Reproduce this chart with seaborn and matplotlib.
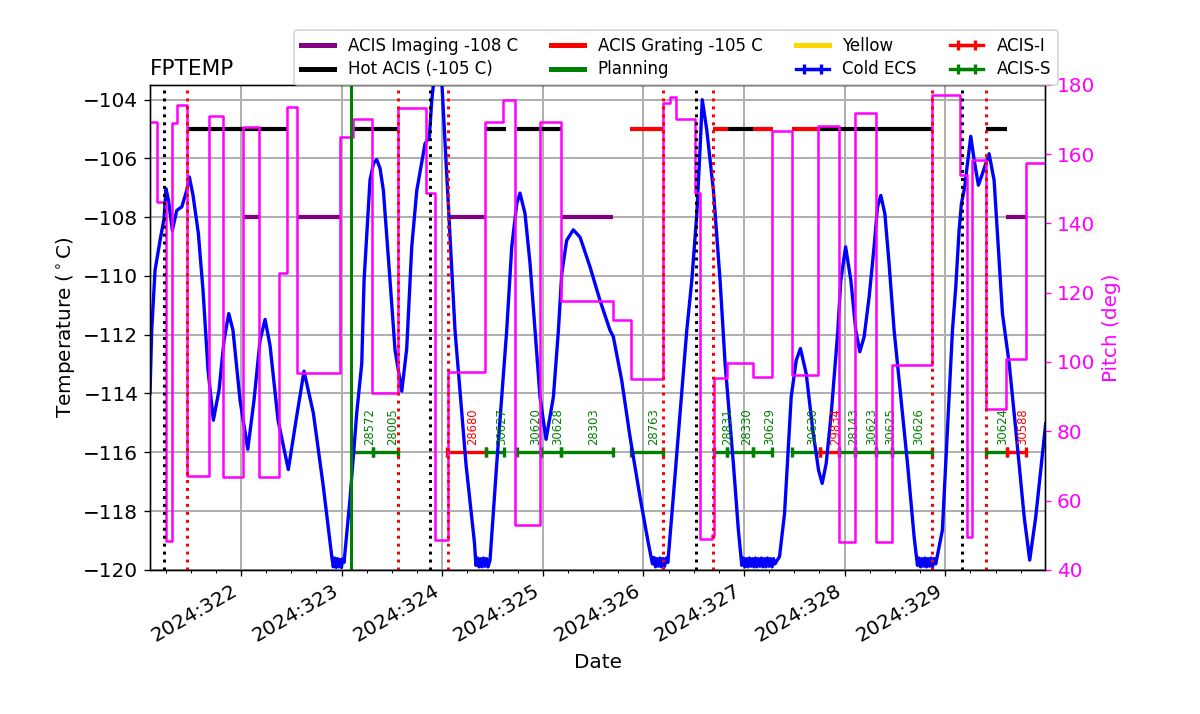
import numpy as np
import matplotlib
matplotlib.use('Agg')
import matplotlib.pyplot as plt
from matplotlib.lines import Line2D
from matplotlib.ticker import MultipleLocator, FuncFormatter
import seaborn as sns

# FPTEMP model (day of year 2024, deg C)
temp_time = [321.095, 321.112, 321.145, 321.195, 321.235, 321.254, 321.279, 321.317, 321.361, 321.411,
             321.460, 321.486, 321.523, 321.576, 321.622, 321.672, 321.725, 321.781, 321.831, 321.878,
             321.920, 321.990, 322.067, 322.129, 322.189, 322.239, 322.288, 322.368, 322.470, 322.547,
             322.626, 322.686, 322.719, 322.818, 322.902,
             322.917, 322.930, 322.945, 322.958, 322.972, 322.985, 322.998, 323.010, 323.024,
             323.083, 323.150, 323.200, 323.223, 323.282, 323.317, 323.349, 323.382, 323.415, 323.481,
             323.531, 323.598, 323.647, 323.697, 323.747, 323.829, 323.872, 323.896, 323.930, 323.995,
             324.127, 324.237, 324.321,
             324.335, 324.350, 324.365, 324.380, 324.395, 324.410, 324.425, 324.440, 324.455, 324.475,
             324.542, 324.641, 324.691, 324.741, 324.773, 324.823, 324.873, 324.922, 324.972, 325.032,
             325.105, 325.155, 325.188, 325.237, 325.303, 325.370, 325.469, 325.568, 325.668, 325.701,
             325.784, 325.867, 325.966, 326.049,
             326.090, 326.105, 326.120, 326.135, 326.150, 326.165, 326.180, 326.195, 326.210, 326.225, 326.243,
             326.297, 326.364, 326.431, 326.481, 326.531, 326.564, 326.585, 326.630, 326.696, 326.762,
             326.812, 326.894, 326.944,
             326.978, 326.993, 327.008, 327.023, 327.038, 327.053, 327.068, 327.083, 327.098, 327.113,
             327.128, 327.143, 327.158, 327.173, 327.188, 327.203, 327.218, 327.233, 327.248, 327.263,
             327.278, 327.293, 327.308,
             327.353, 327.403, 327.469, 327.519, 327.561, 327.618, 327.684, 327.741, 327.777, 327.817,
             327.867, 327.933, 327.962, 328.010, 328.062, 328.111, 328.151, 328.194, 328.244, 328.293,
             328.327, 328.360, 328.400, 328.442, 328.492, 328.559, 328.625, 328.691,
             328.724, 328.739, 328.754, 328.769, 328.784, 328.799, 328.814, 328.829, 328.844, 328.859,
             328.874, 328.889, 328.906,
             328.972, 329.022, 329.072, 329.105, 329.138, 329.161, 329.194, 329.221, 329.254, 329.288,
             329.330, 329.370, 329.436, 329.486, 329.569, 329.636, 329.702, 329.785, 329.840, 329.900,
             329.999]
temp_val = [-113.99, -111.85, -109.81, -108.79, -108.04, -107.03, -107.43, -108.45, -107.77, -107.65,
            -107.09, -106.63, -107.26, -108.56, -110.49, -113.21, -114.91, -113.89, -112.19, -111.28,
            -111.85, -114.23, -115.90, -114.23, -112.19, -111.48, -112.36, -114.91, -116.59, -114.91,
            -113.24, -114.16, -114.67, -117.17, -119.55,
            -119.90, -119.60, -119.92, -119.62, -119.90, -119.65, -119.92, -119.63, -119.75,
            -117.60, -114.67, -112.98, -110.15, -106.74, -106.17, -106.04, -106.34, -107.09, -110.15,
            -112.53, -113.92, -112.47, -109.01, -107.09, -105.50, -105.27, -104.02, -102.90, -103.34,
            -111.85, -116.43, -119.10,
            -119.85, -119.60, -119.90, -119.62, -119.90, -119.60, -119.88, -119.62, -119.90, -119.68,
            -116.38, -111.85, -109.01, -107.54, -107.18, -107.88, -109.58, -111.85, -114.12, -115.56,
            -114.12, -111.85, -109.92, -108.79, -108.43, -108.68, -109.69, -110.83, -111.85, -112.07,
            -113.55, -115.48, -117.52, -119.10,
            -119.80, -119.58, -119.90, -119.62, -119.88, -119.60, -119.90, -119.62, -119.88, -119.60, -119.75,
            -117.52, -114.68, -111.85, -110.15, -107.88, -105.61, -104.00, -105.04, -107.09, -110.15,
            -112.98, -116.38, -118.65,
            -119.85, -119.60, -119.90, -119.62, -119.90, -119.60, -119.88, -119.62, -119.90, -119.60,
            -119.90, -119.62, -119.88, -119.60, -119.90, -119.62, -119.90, -119.60, -119.88, -119.62,
            -119.90, -119.62, -119.80,
            -119.55, -118.08, -114.12, -112.87, -112.47, -113.32, -115.25, -116.61, -117.06, -116.38,
            -114.68, -111.85, -110.15, -109.01, -110.15, -111.85, -112.58, -112.07, -110.71, -109.01,
            -107.65, -107.26, -107.88, -109.58, -111.85, -114.12, -116.38, -118.88,
            -119.85, -119.60, -119.90, -119.62, -119.88, -119.60, -119.90, -119.62, -119.88, -119.60,
            -119.90, -119.62, -119.80,
            -118.65, -115.25, -111.85, -110.37, -108.45, -107.54, -106.97, -106.18, -105.25, -106.06,
            -106.91, -106.52, -105.84, -106.74, -111.28, -112.98, -115.25, -118.20, -119.67, -118.20,
            -115.02]

# pitch (deg), step changes
pitch_time = [321.095, 321.162, 321.254, 321.314, 321.361, 321.463, 321.682, 321.818, 322.023, 322.179,
              322.381, 322.454, 322.554, 322.984, 323.116, 323.305, 323.564, 323.839, 323.928, 324.061,
              324.425, 324.607, 324.724, 324.972, 325.178, 325.695, 325.874, 326.192, 326.264, 326.324,
              326.513, 326.563, 326.679, 326.702, 326.834, 327.092, 327.281, 327.474, 327.739, 327.947,
              328.103, 328.309, 328.468, 328.872, 329.147, 329.214, 329.270, 329.406, 329.601, 329.800,
              329.994]
pitch_val = [169.4, 146.3, 48.4, 169.1, 174.2, 67.2, 171.0, 66.9, 168.0, 66.9,
             125.6, 173.7, 96.8, 165.1, 170.1, 91.0, 173.3, 148.7, 48.5, 97.2,
             169.4, 175.6, 53.0, 169.4, 117.6, 112.0, 95.0, 174.9, 176.6, 170.1,
             148.9, 48.9, 50.1, 95.5, 99.7, 95.8, 166.8, 96.3, 168.2, 47.9,
             171.8, 47.9, 99.2, 177.1, 154.0, 49.6, 158.2, 86.5, 100.8, 157.6,
             157.6]

# event times
perigee_times = [321.235, 323.879, 326.523, 329.170]
rz_times = [321.466, 323.564, 324.061, 326.198, 326.695, 328.872, 329.409]
planning_time = 323.093

# limit segments
hot_start = [321.466, 323.110, 324.432, 324.740, 326.844, 327.755, 329.409]
hot_stop = [322.470, 323.564, 324.631, 325.188, 327.092, 328.872, 329.612]
imaging_start = [322.033, 322.564, 324.061, 325.188, 329.601]
imaging_stop = [322.189, 322.991, 324.432, 325.701, 329.803]
grating_start = [325.867, 326.695, 327.092, 327.480]
grating_stop = [326.198, 326.844, 327.291, 327.755]

# observations
obsids = ['28572', '28005', '28680', '30627', '30620', '30628', '28303', '28763', '28831', '28330',
          '30629', '30630', '29834', '28143', '30623', '30625', '30626', '30624', '30588']
obs_start = [323.103, 323.315, 324.051, 324.432, 324.747, 324.979, 325.181, 325.874, 326.702, 326.834,
             327.092, 327.480, 327.755, 327.947, 328.103, 328.312, 328.468, 329.409, 329.611]
obs_stop = [323.315, 323.564, 324.432, 324.617, 324.979, 325.181, 325.695, 326.198, 326.834, 327.092,
            327.281, 327.755, 327.947, 328.103, 328.312, 328.468, 328.872, 329.611, 329.800]
obs_inst = ['S', 'S', 'I', 'S', 'S', 'S', 'S', 'S', 'S', 'S',
            'S', 'S', 'I', 'S', 'S', 'S', 'S', 'S', 'I']

plt.rcParams['font.size'] = 12

fig, ax = plt.subplots(figsize=(10, 5.95), dpi=120)
fig.subplots_adjust(left=0.125, right=0.871, bottom=0.202, top=0.881)
ax2 = ax.twinx()

ax.grid(True, color='#b0b0b0', lw=1.2)
ax.set_axisbelow(True)

ax.hlines([-105] * len(hot_start), hot_start, hot_stop, color='black', lw=2.5)
ax.hlines([-108] * len(imaging_start), imaging_start, imaging_stop, color='purple', lw=2.5)
ax.hlines([-105] * len(grating_start), grating_start, grating_stop, color='red', lw=2.5)

inst_color = {'S': 'green', 'I': 'red'}
eb = {}
for oid, t0, t1, inst in zip(obsids, obs_start, obs_stop, obs_inst):
    mid = 0.5 * (t0 + t1)
    c = inst_color[inst]
    e = ax.errorbar([mid], [-116], xerr=[0.5 * (t1 - t0)], fmt='-', color=c,
                    lw=2, capsize=3, capthick=2)
    eb.setdefault(inst, e)
    ax.text(mid, -115.75, oid, rotation=90, color=c, fontsize=7,
            ha='left', va='bottom')
eb_ecs = ax.errorbar([np.nan], [np.nan], xerr=[np.nan], fmt='-', color='blue',
                     lw=2, capsize=3, capthick=2)

sns.lineplot(x=temp_time, y=temp_val, ax=ax, color='blue', lw=2, estimator=None)
sns.lineplot(x=pitch_time, y=pitch_val, ax=ax2, color='magenta', lw=1.5,
             drawstyle='steps-post', estimator=None)

for t in perigee_times:
    ax2.axvline(t, color='black', ls=':', lw=1.8)
for t in rz_times:
    ax2.axvline(t, color='red', ls=':', lw=1.8)
ax2.axvline(planning_time, color='green', lw=1.8)

ax.set_xlim(321.095, 329.994)
ax.set_ylim(-120, -103.5)
ax.set_yticks(np.arange(-120, -103, 2))
ax2.set_ylim(40, 180)
ax2.set_yticks(np.arange(40, 181, 20))

ax.xaxis.set_major_locator(MultipleLocator(1))
ax.xaxis.set_minor_locator(MultipleLocator(0.25))
ax.xaxis.set_major_formatter(FuncFormatter(lambda v, p: f'2024:{int(round(v))}'))
plt.setp(ax.get_xticklabels(), rotation=30, ha='right')

ax.set_xlabel('Date')
ax.set_ylabel(r'Temperature ($^\circ$C)')
ax2.set_ylabel('Pitch (deg)', color='magenta')
ax2.tick_params(axis='y', colors='magenta')
ax2.spines['right'].set_color('black')
ax.set_title('FPTEMP', loc='left', fontsize=13)

handles = [Line2D([], [], color='purple', lw=3), Line2D([], [], color='black', lw=3),
           Line2D([], [], color='red', lw=3), Line2D([], [], color='green', lw=3),
           Line2D([], [], color='gold', lw=3), eb_ecs, eb['I'], eb['S']]
labels = ['ACIS Imaging -108 C', 'Hot ACIS (-105 C)', 'ACIS Grating -105 C', 'Planning',
          'Yellow', 'Cold ECS', 'ACIS-I', 'ACIS-S']
fig.legend(handles, labels, ncol=4, loc='upper center', borderaxespad=0,
           labelspacing=0.35, bbox_to_anchor=(676 / 1200, 1 - 30 / 714), fontsize=10)

fig.savefig('out.png', dpi=120)
